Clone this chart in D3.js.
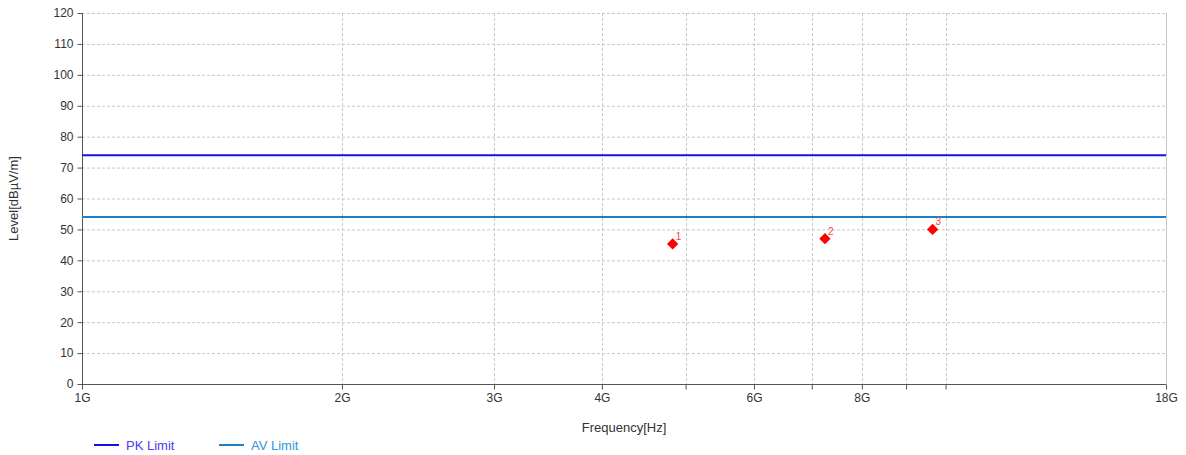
<!DOCTYPE html>
<html><head><meta charset="utf-8">
<script src="https://cdn.jsdelivr.net/npm/d3@7"></script>
<style>
html,body{margin:0;padding:0;background:#fff;}
svg{display:block;font-family:"Liberation Sans",Arial,sans-serif;}
</style></head>
<body>
<svg id="chart" width="1186" height="455"></svg>
<script>
// ---- data ----
const xTickValues = [1e9,2e9,3e9,4e9,5e9,6e9,7e9,8e9,9e9,10e9,18e9];
const xTickLabels = ["1G","2G","3G","4G","","6G","","8G","","","18G"];
const yTickValues = [0,10,20,30,40,50,60,70,80,90,100,110,120];
const markerNames = ["1","2","3"];
const markerFreqs = [4.83e9, 7.25e9, 9.66e9];
const markerLevels = [45.3, 47.0, 50.0];
const limitNames = ["PK Limit","AV Limit"];
const limitLevels = [74, 54];
const limitColors = ["#1414dc","#1f7fc0"];
const limitTextColors = ["#4a3cf0","#2f95d8"];

// ---- layout ----
const svg = d3.select("#chart");
const L = 82, R = 1166, T = 13, B = 384;
const x = d3.scaleLog().domain([1e9,18e9]).range([L,R]);
const y = d3.scaleLinear().domain([0,120]).range([B,T]);

// gridlines
const grid = svg.append("g");
grid.selectAll("line.h").data(yTickValues.filter(v=>v>0)).join("line")
  .attr("x1",L).attr("x2",R).attr("y1",d=>y(d)+0.5).attr("y2",d=>y(d)+0.5)
  .attr("stroke","#c8c8c8").attr("stroke-dasharray","3,2").attr("stroke-width",1);
grid.selectAll("line.v").data(xTickValues.slice(1,-1)).join("line")
  .attr("x1",d=>Math.round(x(d))+0.5).attr("x2",d=>Math.round(x(d))+0.5).attr("y1",T).attr("y2",B)
  .attr("stroke","#c8c8c8").attr("stroke-dasharray","3,2").attr("stroke-width",1);
// right border
svg.append("line").attr("x1",R+0.5).attr("x2",R+0.5).attr("y1",T).attr("y2",B)
  .attr("stroke","#c8c8c8").attr("stroke-width",1);

// axes
const yAxis = d3.axisLeft(y).tickValues(yTickValues).tickSize(5).tickPadding(4);
const gy = svg.append("g").attr("transform",`translate(${L+0.5},0)`).call(yAxis);
const xAxis = d3.axisBottom(x).tickValues(xTickValues).tickSize(5).tickPadding(4)
  .tickFormat((d,i)=>xTickLabels[i]);
const gx = svg.append("g").attr("transform",`translate(0,${B+0.5})`).call(xAxis);
[gx,gy].forEach(g=>{
  g.select(".domain").attr("stroke","#555");
  g.selectAll(".tick line").attr("stroke","#555");
  g.selectAll(".tick text").attr("fill","#333").attr("font-size",12)
    .attr("font-family","'Liberation Sans',Arial,sans-serif");
});
gx.select(".domain").attr("d",`M${L},0H${R}`);
gy.select(".domain").attr("d",`M0,${B}V${T}`);

// limit lines
svg.selectAll("line.lim").data(limitLevels).join("line")
  .attr("x1",L).attr("x2",R).attr("y1",d=>y(d)).attr("y2",d=>y(d))
  .attr("stroke",(d,i)=>limitColors[i]).attr("stroke-width",2);

// markers
const mk = svg.append("g");
markerFreqs.forEach((f,i)=>{
  const cx = x(f), cy = y(markerLevels[i]);
  mk.append("path").attr("d",d3.symbol(d3.symbolSquare,64)())
    .attr("transform",`translate(${cx},${cy}) rotate(45)`).attr("fill","#ff0000");
  mk.append("text").attr("x",cx+3).attr("y",cy-4).text(markerNames[i])
    .attr("fill","#ff4040").attr("font-size",10);
});

// axis titles
svg.append("text").attr("x",(L+R)/2).attr("y",432).attr("text-anchor","middle")
  .attr("font-size",13).attr("fill","#333").text("Frequency[Hz]");
svg.append("text").attr("transform",`translate(18,${(T+B)/2}) rotate(-90)`)
  .attr("text-anchor","middle").attr("font-size",13).attr("fill","#333").text("Level[dBµV/m]");

// legend
const legX = [94,219];
limitNames.forEach((n,i)=>{
  svg.append("line").attr("x1",legX[i]).attr("x2",legX[i]+25).attr("y1",445).attr("y2",445)
    .attr("stroke",limitColors[i]).attr("stroke-width",2);
  svg.append("text").attr("x",legX[i]+32).attr("y",449.5).attr("font-size",13)
    .attr("fill",limitTextColors[i]).text(n);
});
</script>
</body></html>
